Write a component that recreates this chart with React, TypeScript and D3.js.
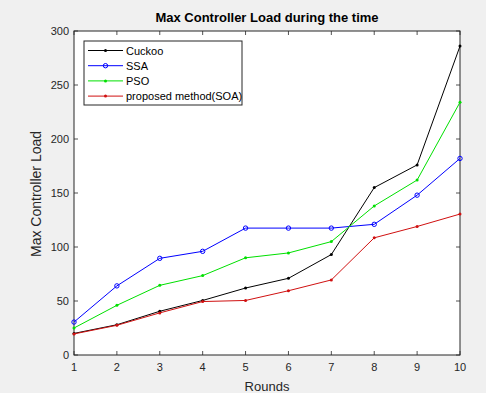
import React from "react";
import * as d3 from "d3";

const rounds = [1, 2, 3, 4, 5, 6, 7, 8, 9, 10];
const cuckoo = [20, 28, 40.5, 50.5, 62, 71, 93, 155, 176, 286];
const ssa = [30.5, 64, 89.5, 96, 117.5, 117.5, 117.5, 121, 148, 182];
const pso = [25, 46, 64.5, 73.5, 90, 94.5, 105, 138, 162, 234];
const soa = [19.5, 27.5, 39, 49.5, 50.5, 59.5, 69.5, 108.5, 119, 130.5];
const yTicks = [0, 50, 100, 150, 200, 250, 300];
const seriesNames = ["Cuckoo", "SSA", "PSO", "proposed method(SOA)"];
const seriesColors = ["#000000", "#0000ff", "#00e000", "#d01010"];
const seriesData = [cuckoo, ssa, pso, soa];

const W = 486, H = 393;
const L = 74, R = 460, T = 31, B = 355;
const FONT = "'Liberation Sans', Arial, sans-serif";

export default function App() {
  const x = d3.scaleLinear().domain([1, 10]).range([L, R]);
  const y = d3.scaleLinear().domain([0, 300]).range([B, T]);
  const line = d3.line<number>().x((_, i) => x(rounds[i])).y((d) => y(d));
  const tl = 4;
  return (
    <svg width={W} height={H} style={{ position: "absolute", left: 0, top: 0 }} fontFamily={FONT}>
      <rect x={0} y={0} width={W} height={H} fill="#f0f0f0" />
      <rect x={L} y={T} width={R - L} height={B - T} fill="#ffffff" />
      {/* ticks */}
      {rounds.map((r) => (
        <g key={"xt" + r}>
          <line x1={x(r)} x2={x(r)} y1={B} y2={B - tl} stroke="#262626" strokeWidth={0.8} />
          <line x1={x(r)} x2={x(r)} y1={T} y2={T + tl} stroke="#262626" strokeWidth={0.8} />
          <text x={x(r)} y={B + 16} textAnchor="middle" fontSize={11} fill="#262626">{r}</text>
        </g>
      ))}
      {yTicks.map((v) => (
        <g key={"yt" + v}>
          <line x1={L} x2={L + tl} y1={y(v)} y2={y(v)} stroke="#262626" strokeWidth={0.8} />
          <line x1={R} x2={R - tl} y1={y(v)} y2={y(v)} stroke="#262626" strokeWidth={0.8} />
          <text x={L - 5} y={y(v) + 4} textAnchor="end" fontSize={11} fill="#262626">{v}</text>
        </g>
      ))}
      <rect x={L} y={T} width={R - L} height={B - T} fill="none" stroke="#262626" strokeWidth={1} />
      {/* series */}
      {seriesData.map((data, si) => (
        <g key={"s" + si}>
          <path d={line(data) || ""} fill="none" stroke={seriesColors[si]} strokeWidth={1} />
          {data.map((d, i) =>
            si === 1 ? (
              <circle key={i} cx={x(rounds[i])} cy={y(d)} r={2.2} fill="none" stroke={seriesColors[si]} strokeWidth={1} />
            ) : (
              <circle key={i} cx={x(rounds[i])} cy={y(d)} r={1.5} fill={seriesColors[si]} />
            )
          )}
        </g>
      ))}
      {/* legend */}
      <rect x={84} y={41} width={158} height={64} fill="#ffffff" stroke="#262626" strokeWidth={1} />
      {seriesNames.map((n, i) => {
        const ly = 50.5 + i * 15.2;
        return (
          <g key={"l" + i}>
            <line x1={88} x2={123} y1={ly} y2={ly} stroke={seriesColors[i]} strokeWidth={1} />
            {i === 1 ? (
              <circle cx={105.5} cy={ly} r={2.2} fill="none" stroke={seriesColors[i]} strokeWidth={1} />
            ) : (
              <circle cx={105.5} cy={ly} r={1.5} fill={seriesColors[i]} />
            )}
            <text x={126} y={ly + 4} fontSize={11} fill="#000">{n}</text>
          </g>
        );
      })}
      {/* titles */}
      <text x={(L + R) / 2} y={22} textAnchor="middle" fontSize={13} fontWeight="bold" fill="#000">
        Max Controller Load during the time
      </text>
      <text x={(L + R) / 2} y={391} textAnchor="middle" fontSize={13} fill="#262626">Rounds</text>
      <text transform={`translate(41,194) rotate(-90)`} textAnchor="middle" fontSize={14} fill="#262626">
        Max Controller Load
      </text>
    </svg>
  );
}
